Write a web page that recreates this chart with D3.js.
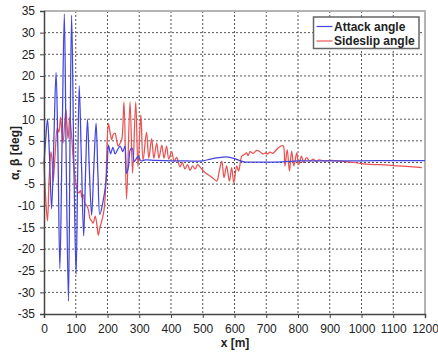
<!DOCTYPE html>
<html><head><meta charset="utf-8">
<script src="https://cdn.jsdelivr.net/npm/d3@7"></script>
<style>
html,body{margin:0;padding:0;background:#fff;}
svg{display:block;font-family:"Liberation Sans",Arial,sans-serif;}
</style></head>
<body><svg id="c" width="438" height="354"></svg>
<script>
const xTicks = [0,100,200,300,400,500,600,700,800,900,1000,1100,1200];
const yTicks = [-35,-30,-25,-20,-15,-10,-5,0,5,10,15,20,25,30,35];
const seriesNames = ["Attack angle","Sideslip angle"];
const seriesColors = ["#4444de","#ea5252"];

const attackX = [0,5,11,17,24,31,38,44,50,57,64,70,77,82,87,94,101,106,111,118,125,131,137,143,150,157,164,170,176,186,195,200,203,210,217,224,232,240,248,255,260,266,272,278,284,290,297,305,320,350,400,450,500,525,550,575,600,615,630,700,750,800,900,1000,1100,1200];
const attackY = [0,5,10,2,-10.7,5,20.8,2,-24.5,5,34.3,0,-32,5,34,0,-25.8,-3,17.7,0,-17,-2,10,-2,-12.2,-1,9.1,-3,-12,-9,-4.6,1,4,2,3.5,2,3,3.8,2.5,3.8,-2.5,-1,3,3.3,0.2,0.8,1.5,0.4,0.6,0.5,0.4,0.35,0.4,0.8,1.1,1.3,0.9,0.5,0.15,0.1,0.15,0.35,0.4,0.4,0.45,0.45];

const sideslipX = [0,5,11,16,22,26,29,35,42,47,52,57,60,65,69,73,76,81,87,93,100,105,110,115,119,124,129,135,140,145,150,155,161,166,171,176,182,189,195,199,203,208,213,218,224,229,234,240,245,252,260,271,279,289,296,305,312,323,330,339,346,355,362,371,378,386,393,402,410,418,428,436,444,452,460,468,476,484,491,500,510,523,535,544,552,560,567,575,584,591,598,607,613,623,630,638,643,649,659,670,680,690,697,705,712,720,728,738,749,754,759,766,773,780,787,796,802,811,818,827,837,848,857,866,880,906,932,974,1016,1060,1100,1142,1190];
const sideslipY = [0,-8,-13.5,-4,2.5,0,-4.5,2,8,7,10.5,6,4.5,9,12.3,8,5.5,10.5,6,0,-4.5,-6.5,-7,-6.5,-8,-7.5,-9.5,-10,-11,-13,-13.5,-14,-12.4,-14,-16.8,-15,-13.5,-11,-4.6,5,9,7,5.3,6.5,6.8,5,3.8,4.5,5.3,14,-8.5,14,-2.5,14,-1,11,0.5,7,1,5.5,1,4.5,1,4,1,3.8,0.8,2.5,0.3,1.2,-1,0,-1.5,-0.5,-1.8,-0.8,-1.5,-0.5,-1,-1.8,-2.5,-3.1,-3.8,-4.3,-2,0.3,-3.5,-0.8,-4.3,-1.2,-4.7,-0.8,-2,1.5,1.8,2.2,1.6,2.5,2.1,2.8,2.5,2.0,2.2,2.0,2.4,2.1,2.6,3.4,3.9,3.8,-0.8,3,-2,2.6,-0.8,2.2,-0.5,1.5,0,1.1,0.3,0.8,0.2,0.6,0.4,0.5,0.3,0,-0.4,-0.5,-0.7,-0.9,-1.2];

const svg = d3.select("#c");
const L = 44, R = 425, T = 11, B = 314;
const x = d3.scaleLinear().domain([0,1200]).range([L,R]);
const y = d3.scaleLinear().domain([-35,35]).range([B,T]);

// grid
const g = svg.append("g");
g.selectAll("line.vx").data(xTicks.slice(1,-1)).enter().append("line")
  .attr("x1",d=>x(d)).attr("x2",d=>x(d)).attr("y1",T).attr("y2",B)
  .attr("stroke","#555").attr("stroke-width",1).attr("stroke-dasharray","2,2");
g.selectAll("line.hy").data(yTicks.slice(1,-1)).enter().append("line")
  .attr("x1",L).attr("x2",R).attr("y1",d=>y(d)).attr("y2",d=>y(d))
  .attr("stroke","#555").attr("stroke-width",1).attr("stroke-dasharray","2,2");

// frame top/right
svg.append("path").attr("d",`M${L},${T}H${R}V${B}`).attr("fill","none")
  .attr("stroke","#b4b4b4").attr("stroke-width",2);

// lines
const lineGen = d3.line().x(d=>x(d[0])).y(d=>y(d[1])).curve(d3.curveCatmullRom.alpha(0.5));
const sData = sideslipX.map((v,i)=>[v,sideslipY[i]]);
const aData = attackX.map((v,i)=>[v,attackY[i]]);
svg.append("path").datum(sData).attr("d",lineGen).attr("fill","none")
  .attr("stroke",seriesColors[1]).attr("stroke-width",1.25);
svg.append("path").datum(aData).attr("d",lineGen).attr("fill","none")
  .attr("stroke",seriesColors[0]).attr("stroke-width",1.25);

// axes
const xAxis = d3.axisBottom(x).tickValues(xTicks).tickSize(4).tickPadding(6).tickFormat(d3.format("d"));
const yAxis = d3.axisLeft(y).tickValues(yTicks).tickSize(4).tickPadding(5).tickFormat(d3.format("d"));
const gx = svg.append("g").attr("transform",`translate(0,${B})`).call(xAxis);
const gy = svg.append("g").attr("transform",`translate(${L},0)`).call(yAxis);
[gx,gy].forEach(a=>{
  a.select(".domain").attr("stroke","#444").attr("stroke-width",1.5);
  a.selectAll(".tick line").attr("stroke","#444");
  a.selectAll(".tick text").attr("font-size",12).attr("fill","#222")
   .attr("font-family","'Liberation Sans',Arial,sans-serif");
});
gy.selectAll(".tick text").text(d=>d<0?"-"+Math.abs(d):d);

svg.append("text").attr("x",235).attr("y",347).attr("text-anchor","middle")
  .attr("font-size",12).attr("font-weight","bold").attr("fill","#222").text("x [m]");
svg.append("text").attr("transform","translate(19,153) rotate(-90)").attr("text-anchor","middle")
  .attr("font-size",12).attr("font-weight","bold").attr("fill","#222").text("α, β [deg]");

// legend
const lg = svg.append("g");
lg.append("rect").attr("x",313.5).attr("y",17).attr("width",105.5).attr("height",31.5)
  .attr("fill","#fff").attr("stroke","#666").attr("stroke-width",1.5);
seriesNames.forEach((n,i)=>{
  const yy = 26.5 + i*14.5;
  lg.append("line").attr("x1",316.5).attr("x2",332.5).attr("y1",yy).attr("y2",yy)
    .attr("stroke",seriesColors[i]).attr("stroke-width",1.2);
  lg.append("text").attr("x",334).attr("y",yy+4.3).attr("font-size",12)
    .attr("font-weight","bold").attr("fill","#222").text(n);
});
</script></body></html>
